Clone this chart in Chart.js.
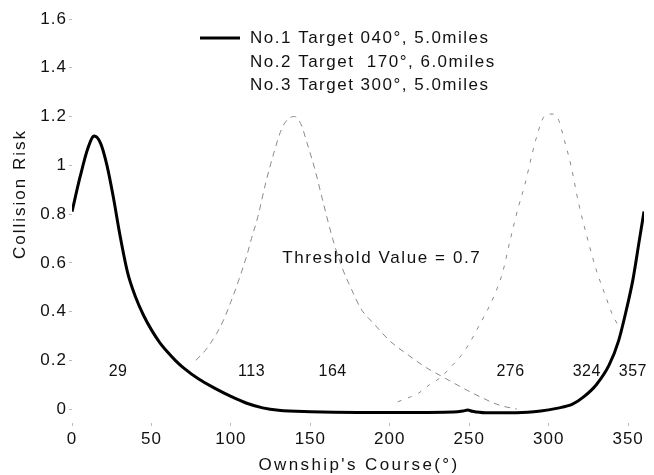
<!DOCTYPE html>
<html>
<head>
<meta charset="utf-8">
<script src="https://cdn.jsdelivr.net/npm/chart.js@4.4.1/dist/chart.umd.min.js"></script>
<style>
  html, body { margin: 0; padding: 0; background: #fff; }
  canvas { display: block; }
</style>
</head>
<body>
<canvas id="risk" width="654" height="475"></canvas>
<script>
// values
const course1 = [0, 5, 10, 14, 18, 22, 26, 30, 35, 40, 45, 50, 55, 60, 65, 70, 80, 90, 100, 110, 120, 130, 150, 180, 210, 240, 246, 249, 252, 260, 280, 295, 305, 315, 322, 330, 338, 344, 349, 353, 357, 360];
const risk1 = [0.81, 0.95, 1.07, 1.12, 1.09, 1.0, 0.87, 0.72, 0.56, 0.46, 0.385, 0.325, 0.275, 0.235, 0.2, 0.17, 0.122, 0.085, 0.052, 0.024, 0.005, -0.005, -0.011, -0.014, -0.014, -0.012, -0.008, -0.004, -0.009, -0.015, -0.015, -0.008, 0.003, 0.02, 0.05, 0.1, 0.18, 0.28, 0.41, 0.53, 0.69, 0.81];

const course2 = [78, 85, 91, 95, 100, 105, 110, 113, 117, 122, 127, 132, 136, 140, 144, 148, 153, 158, 164, 170, 176, 182, 190, 200, 212, 223, 234, 245, 257, 269, 280];
const risk2 = [0.2, 0.25, 0.31, 0.36, 0.44, 0.53, 0.63, 0.7, 0.79, 0.93, 1.05, 1.15, 1.19, 1.2, 1.17, 1.09, 0.98, 0.85, 0.7, 0.58, 0.49, 0.41, 0.35, 0.28, 0.22, 0.17, 0.13, 0.09, 0.05, 0.016, 0.0];

const course3 = [205, 213, 218, 225, 232, 238, 245, 251, 256, 261, 266, 271, 276, 281, 285, 289, 293, 297, 300, 303, 306, 310, 314, 319, 324, 330, 336, 340, 344, 348];
const risk3 = [0.03, 0.05, 0.065, 0.1, 0.13, 0.17, 0.22, 0.28, 0.34, 0.4, 0.47, 0.56, 0.7, 0.83, 0.92, 1.03, 1.13, 1.2, 1.21, 1.21, 1.19, 1.1, 1.0, 0.84, 0.71, 0.57, 0.46, 0.39, 0.34, 0.29];

const seriesNames = ["No.1 Target 040°, 5.0miles", "No.2 Target  170°, 6.0miles", "No.3 Target 300°, 5.0miles"];
const crossCourses = [29, 113, 164, 276, 324, 357];
const threshold = 0.7;

const xTicks = [0, 50, 100, 150, 200, 250, 300, 350];
const yTicks = [0, 0.2, 0.4, 0.6, 0.8, 1, 1.2, 1.4, 1.6];

const FONT = "'Liberation Sans', Arial, Helvetica, sans-serif";

const toPoints = (xs, ys) => xs.map((x, i) => ({ x: x, y: ys[i] }));

// draws the legend block, the threshold note, the crossing numbers and axis titles
const textPlugin = {
  id: "texts",
  beforeDraw(chart) {
    chart.ctx.letterSpacing = "1px";
  },
  afterDraw(chart) {
    const { ctx, chartArea, scales } = chart;
    ctx.save();
    ctx.fillStyle = "#111";
    ctx.textBaseline = "middle";

    // legend
    ctx.font = "17px " + FONT;
    ctx.letterSpacing = "1.5px";
    ctx.textAlign = "left";
    const rows = [38, 62, 85];
    chart.data.datasets.forEach((ds, i) => {
      if (ds.showSample) {
        ctx.save();
        ctx.strokeStyle = ds.borderColor;
        ctx.lineWidth = ds.borderWidth;
        ctx.beginPath();
        ctx.moveTo(200, rows[i]);
        ctx.lineTo(240, rows[i]);
        ctx.stroke();
        ctx.restore();
      }
      ctx.fillText(ds.label, 250, rows[i]);
    });

    // threshold note
    ctx.textAlign = "center";
    ctx.letterSpacing = "1.6px";
    ctx.fillText("Threshold Value = " + threshold, scales.x.getPixelForValue(195), scales.y.getPixelForValue(0.62));

    // crossing courses
    ctx.font = "16px " + FONT;
    ctx.letterSpacing = "0.5px";
    const ly = scales.y.getPixelForValue(0.155);
    crossCourses.forEach(c => {
      const t = String(c);
      const w = ctx.measureText(t).width;
      let px = scales.x.getPixelForValue(c);
      px = Math.min(px, chartArea.right - w / 2 + 3);
      ctx.fillText(t, px, ly);
    });

    // axis titles
    ctx.font = "17px " + FONT;
    ctx.letterSpacing = "2.4px";
    ctx.fillText("Ownship's Course(°)", (chartArea.left + chartArea.right) / 2 + 1, 465);
    ctx.save();
    ctx.translate(20, 194);
    ctx.rotate(-Math.PI / 2);
    ctx.letterSpacing = "2px";
    ctx.fillText("Collision Risk", 0, 0);
    ctx.restore();

    ctx.restore();
  }
};

new Chart(document.getElementById("risk"), {
  type: "line",
  data: {
    datasets: [
      {
        label: seriesNames[0],
        data: toPoints(course1, risk1),
        borderColor: "#000",
        borderWidth: 3,
        showSample: true
      },
      {
        label: seriesNames[1],
        data: toPoints(course2, risk2),
        borderColor: "#8a8a8a",
        borderWidth: 1,
        borderDash: [6, 5]
      },
      {
        label: seriesNames[2],
        data: toPoints(course3, risk3),
        borderColor: "#8a8a8a",
        borderWidth: 1,
        borderDash: [4, 7]
      }
    ]
  },
  options: {
    responsive: false,
    animation: false,
    devicePixelRatio: 1,
    layout: { padding: { top: 19, right: 10, left: 0, bottom: 0 } },
    elements: {
      point: { radius: 0 },
      line: { cubicInterpolationMode: "monotone", fill: false }
    },
    plugins: {
      legend: { display: false },
      tooltip: { enabled: false }
    },
    scales: {
      x: {
        type: "linear",
        min: 0,
        max: 360,
        afterBuildTicks: s => { s.ticks = xTicks.map(v => ({ value: v })); },
        afterFit: s => { s.height = 52; },
        border: { display: false },
        grid: { drawOnChartArea: false, tickLength: 3, color: "#bbb" },
        ticks: {
          autoSkip: false,
          maxRotation: 0,
          padding: 3,
          color: "#111",
          font: { family: FONT, size: 17 }
        }
      },
      y: {
        min: -0.057,
        max: 1.6,
        afterBuildTicks: s => { s.ticks = yTicks.map(v => ({ value: v })); },
        afterFit: s => { s.width = 72; },
        border: { display: false },
        grid: { drawOnChartArea: false, tickLength: 3, color: "#bbb" },
        ticks: {
          padding: 2,
          color: "#111",
          font: { family: FONT, size: 17 },
          callback: v => String(+v.toFixed(1))
        }
      }
    }
  },
  plugins: [textPlugin]
});
</script>
</body>
</html>
